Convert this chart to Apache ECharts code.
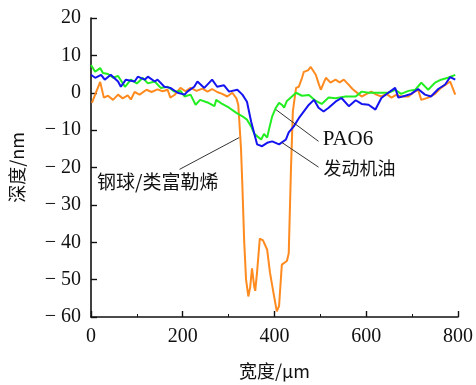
<!DOCTYPE html>
<html>
<head>
<meta charset="utf-8">
<script src="https://cdn.jsdelivr.net/npm/echarts@6/dist/echarts.min.js"></script>
<style>
  html, body { margin: 0; padding: 0; background: #fff; }
  #main { width: 476px; height: 385px; }
</style>
</head>
<body>
<div id="main"></div>
<script>
// 钢球/类富勒烯 (橙色)
var orangeX = [2,20,28,37,48,59,69,80,87,95,106,121,132,145,156,167,173,182,195,206,217,230,243,254,264,275,286,297,308,317,321,323,327,330,334,338,343,347,351,356,358,362,368,375,379,384,390,397,405,410,416,427,431,436,440,447,453,460,464,473,479,490,496,501,507,512,522,533,542,551,562,570,577,590,601,611,622,633,644,655,665,676,692,702,713,720,735,750,763,783,794];
var orangeY = [-2.7,2.9,-1.3,-0.8,-1.9,-0.5,-1.5,-0.7,-1.8,0.2,-0.5,0.8,0.2,0.9,0.4,0.8,-1.3,-0.6,1.3,0.4,1.3,0.5,1.1,0.3,1.0,0.2,-0.3,-1.0,0,-1.5,-3.2,-7,-15,-25,-40,-50,-54.5,-52,-47,-52,-53,-48,-39,-39.5,-40,-42,-48,-53,-58.5,-57,-46,-45,-43,-20,-5,1.3,1.6,4,5.6,6.0,6.9,4.8,2.5,0.8,2.6,4.0,2.7,3.5,2.8,3.5,2.1,1.0,0.3,-1.0,-0.3,0.3,-0.5,-1.0,-0.3,-1.3,-0.6,-1.0,-1.0,0,0.8,-1.9,-1.3,-0.3,1.3,3.0,-0.5];

// 发动机油 (蓝色)
var blueX = [0,9,22,30,43,59,65,76,95,102,117,124,139,145,160,173,189,204,210,225,232,247,264,275,290,301,319,330,340,349,356,362,373,384,395,410,425,431,442,453,464,475,486,496,507,518,533,546,562,577,590,605,620,633,648,663,670,685,698,713,728,741,757,772,783,794];
var blueY = [4.8,4.0,4.8,3.5,4.8,3.0,1.6,3.5,3.0,4.3,3.5,4.3,3.0,3.5,1.6,1.3,0,-0.5,0.3,1.6,3.0,1.3,3.5,1.6,2.0,0.3,0.8,-0.5,-2.4,-7.7,-11,-13.8,-14.3,-13.4,-13,-13.8,-12.5,-10.6,-9,-6.8,-5,-3.2,-1.9,-4,-5,-4,-2.4,-1.4,-3.6,-2,-3,-3.2,-4.5,-1.4,0,1.3,-1.3,-0.8,-0.3,1.0,-0.5,-1.0,1.0,2.2,4.2,3.5];

// PAO6 (绿色)
var greenX = [0,9,20,26,37,48,59,74,87,100,113,124,139,152,167,182,195,204,217,228,238,254,269,273,286,301,317,330,340,349,356,362,371,377,384,388,395,403,410,416,421,427,438,447,460,475,490,503,518,533,555,577,590,605,627,648,663,676,692,707,720,735,750,763,778,794];
var greenY = [7.4,5.6,6.6,5.3,5.0,4.0,4.5,1.6,3.5,2.5,4.0,2.5,3.0,1.3,1.6,0.3,0.5,-1,-0.5,-3.2,-1.9,-2.6,-3.6,-1.9,-3,-4,-5.4,-6.3,-7.2,-9,-11,-11.6,-12.5,-11,-12,-9.8,-6.3,-4,-2.7,-3.2,-4,-2.2,-1.0,0,-0.8,-0.6,-2.2,-3,-1.3,-1.5,-1,-1,0.3,0,0,0,0.8,-0.3,0.5,0.8,2.7,0.8,2.7,3.5,4.0,4.8];

// 标注: 引线两端 [x, y] 与文字位置
var seriesNames = ['钢球/类富勒烯', '发动机油', 'PAO6'];
var leaderOrange = [[193, -20.5], [323, -12.0]];
var leaderBlue = [[416, -13.3], [496, -19.9]];
var leaderGreen = [[403, -4.5], [496, -13.0]];
var labelPos = [[13, -23.7], [507, -20.2], [505, -12.5]];

function pairs(xs, ys) {
    var out = [];
    for (var i = 0; i < xs.length; i++) out.push([xs[i], ys[i]]);
    return out;
}

function leader(pts) {
    return {
        silent: true,
        symbol: 'none',
        label: { show: false },
        lineStyle: { color: '#333', width: 1, type: 'solid' },
        data: [[{ coord: pts[0] }, { coord: pts[1] }]]
    };
}

var myChart = echarts.init(document.getElementById('main'));
var serif = '"Liberation Serif", "Times New Roman", serif';
var cjk = '"Noto Sans CJK SC", sans-serif';

var option = {
    animation: false,
    grid: { left: 90, right: 16, top: 18, bottom: 66 },
    xAxis: {
        type: 'value',
        min: 0, max: 800, interval: 200,
        name: '宽度/μm',
        nameLocation: 'middle',
        nameGap: 45,
        nameTextStyle: { fontFamily: cjk, fontSize: 18, color: '#111' },
        axisLine: { onZero: false, lineStyle: { color: '#111', width: 1.6 } },
        axisTick: { inside: true, length: 6, lineStyle: { color: '#111', width: 1.4 } },
        minorTick: { show: true, splitNumber: 2, length: 3, lineStyle: { color: '#111', width: 1 } },
        axisLabel: { fontFamily: serif, fontSize: 20, color: '#111', margin: 10 },
        splitLine: { show: false }
    },
    yAxis: {
        type: 'value',
        min: -60, max: 20, interval: 10,
        name: '深度/nm',
        nameLocation: 'middle',
        nameGap: 65,
        nameTextStyle: { fontFamily: cjk, fontSize: 18, color: '#111' },
        axisLine: { show: true, onZero: false, lineStyle: { color: '#111', width: 1.6 } },
        axisTick: { show: true, inside: true, length: 6, lineStyle: { color: '#111', width: 1.4 } },
        axisLabel: {
            fontFamily: serif, fontSize: 20, color: '#111', margin: 10,
            formatter: function (v) { return v < 0 ? '\u2212 ' + (-v) : '' + v; }
        },
        splitLine: { show: false }
    },
    series: [
        {
            name: seriesNames[0], type: 'line', data: pairs(orangeX, orangeY),
            symbol: 'none', lineStyle: { color: '#ff8a1f', width: 2 },
            markLine: leader(leaderOrange)
        },
        {
            name: seriesNames[2], type: 'line', data: pairs(greenX, greenY),
            symbol: 'none', lineStyle: { color: '#22ee22', width: 2 },
            markLine: leader(leaderGreen)
        },
        {
            name: seriesNames[1], type: 'line', data: pairs(blueX, blueY),
            symbol: 'none', lineStyle: { color: '#1414f0', width: 2 },
            markLine: leader(leaderBlue)
        }
    ]
};
myChart.setOption(option);

// 文字标注
var texts = [
    { t: seriesNames[0], f: cjk, s: 19 },
    { t: seriesNames[1], f: cjk, s: 18 },
    { t: seriesNames[2], f: serif, s: 21 }
];
var els = [];
for (var i = 0; i < texts.length; i++) {
    var p = myChart.convertToPixel({ gridIndex: 0 }, labelPos[i]);
    els.push({
        type: 'text', x: p[0], y: p[1],
        style: {
            text: texts[i].t, fill: '#111',
            font: texts[i].s + 'px ' + texts[i].f,
            textAlign: 'left', textVerticalAlign: 'middle'
        }
    });
}
myChart.setOption({ graphic: els });
</script>
</body>
</html>
